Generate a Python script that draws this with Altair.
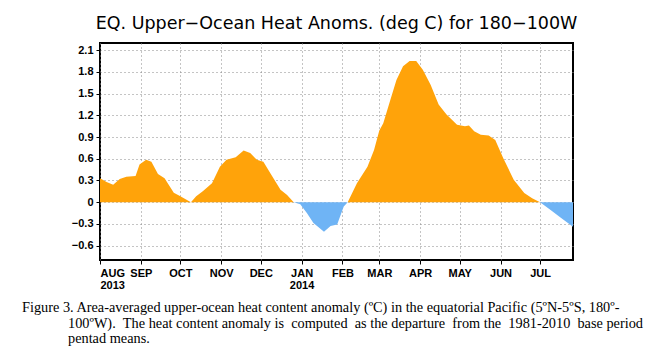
import altair as alt
import pandas as pd

# ---- data ----
dates = [
    "2013-08-01", "2013-08-06", "2013-08-11", "2013-08-16", "2013-08-21", "2013-08-28",
    "2013-08-31", "2013-09-05", "2013-09-09", "2013-09-14", "2013-09-19", "2013-09-26",
    "2013-10-01", "2013-10-05", "2013-10-09", "2013-10-13", "2013-10-18", "2013-10-25",
    "2013-10-31", "2013-11-05", "2013-11-12", "2013-11-18", "2013-11-23", "2013-11-28",
    "2013-12-03", "2013-12-09", "2013-12-16", "2013-12-21", "2013-12-26", "2013-12-31",
    "2014-01-05", "2014-01-10", "2014-01-18", "2014-01-23", "2014-01-28", "2014-02-02",
    "2014-02-05", "2014-02-12", "2014-02-20", "2014-02-25", "2014-03-01", "2014-03-04",
    "2014-03-09", "2014-03-14", "2014-03-19", "2014-03-24", "2014-03-29", "2014-04-03",
    "2014-04-09", "2014-04-15", "2014-04-21", "2014-04-29", "2014-05-05", "2014-05-08",
    "2014-05-12", "2014-05-17", "2014-05-23", "2014-05-28", "2014-06-03", "2014-06-11",
    "2014-06-19", "2014-06-25", "2014-07-01", "2014-07-09", "2014-07-17", "2014-07-26",
]
values = [
    0.33, 0.28, 0.24, 0.32, 0.35, 0.36,
    0.52, 0.585, 0.56, 0.39, 0.33, 0.13,
    0.08, 0.04, 0.0, 0.08, 0.15, 0.26,
    0.49, 0.585, 0.62, 0.715, 0.68, 0.585,
    0.56, 0.38, 0.17, 0.10, 0.0, -0.03,
    -0.15, -0.29, -0.41, -0.33, -0.31, -0.06,
    0.0, 0.26, 0.49, 0.72, 0.99, 1.09,
    1.39, 1.69, 1.88, 1.95, 1.95, 1.83,
    1.62, 1.35, 1.21, 1.07, 1.05, 1.06,
    0.98, 0.93, 0.92, 0.86, 0.61, 0.31,
    0.125, 0.055, 0.0, -0.11, -0.22, -0.34,
]
month_ticks = [(2013, 8), (2013, 9), (2013, 10), (2013, 11), (2013, 12), (2014, 1),
               (2014, 2), (2014, 3), (2014, 4), (2014, 5), (2014, 6), (2014, 7)]
y_ticks = [-0.6, -0.3, 0, 0.3, 0.6, 0.9, 1.2, 1.5, 1.8, 2.1]

NB = "\u00a0"  # a few extra spaces for the justified look of the reference caption
title_text = "EQ. Upper\u2212Ocean Heat Anoms. (deg C) for 180\u2212100W"
caption_lines = [
    "Figure 3. Area-averaged upper-ocean heat content anomaly (\u00baC) in the equatorial Pacific (5\u00baN-5\u00baS, 180\u00ba-",
    f"100\u00baW). {NB}The heat content anomaly is {NB}computed {NB}as the departure {NB}from the {NB}1981-2010 {NB}base period",
    "pentad means.",
]

df = pd.DataFrame({"date": dates, "value": values})

AXFONT = "Liberation Sans"
x_enc = alt.X(
    "date:T",
    scale=alt.Scale(type="utc",
                    domain=[alt.DateTime(year=2013, month=8, date=1, utc=True),
                            alt.DateTime(year=2014, month=7, date=26, utc=True)]),
    axis=alt.Axis(
        values=[alt.DateTime(year=y, month=m, date=1, utc=True) for y, m in month_ticks],
        labelExpr="[upper(utcFormat(datum.value, '%b')), (utcFormat(datum.value, '%m') == '08' || utcFormat(datum.value, '%m') == '01') ? utcFormat(datum.value, '%Y') : '']",
        title=None, grid=True, gridDash=[1, 3], gridColor="#888888", gridWidth=1,
        tickSize=4, tickColor="black", domain=False,
        labelFont=AXFONT, labelFontSize=11, labelFontWeight="bold", labelColor="black",
        labelPadding=3, labelLineHeight=12,
    ),
)
y_axis = alt.Axis(
    values=y_ticks,
    labelExpr="datum.value == 0 ? '0' : replace(format(datum.value, '.1f'), '-', '\u2212')",
    title=None, grid=True, gridDash=[1, 3], gridColor="#888888", gridWidth=1,
    tickSize=4, tickColor="black", domain=False,
    labelFont=AXFONT, labelFontSize=11, labelFontWeight="bold", labelColor="black",
    labelPadding=3,
)
yscale = alt.Scale(domain=[-0.8, 2.2], nice=False, zero=False)

base = alt.Chart(df).transform_calculate(
    pos="max(datum.value, 0)", neg="min(datum.value, 0)"
)
pos_area = base.mark_area(color="#FFA30A", interpolate="linear").encode(
    x=x_enc, y=alt.Y("pos:Q", scale=yscale, axis=y_axis), y2=alt.datum(0)
)
neg_area = base.mark_area(color="#6FB4F5", interpolate="linear").encode(
    x=x_enc, y=alt.Y("neg:Q", scale=yscale, axis=y_axis), y2=alt.datum(0)
)

cap_layers = []
cap_pos = [(-78, 265), (-32, 281), (-32, 296)]
for line, (cx, cy) in zip(caption_lines, cap_pos):
    cap_layers.append(
        alt.Chart(pd.DataFrame({"t": [line]})).mark_text(
            align="left", baseline="middle", font="Liberation Serif", fontSize=14.3,
            color="black"
        ).encode(text="t:N", x=alt.value(cx), y=alt.value(cy))
    )

chart = alt.layer(pos_area, neg_area, *cap_layers).properties(
    width=473, height=217,
    title=alt.TitleParams(title_text, font="DejaVu Sans", fontSize=17.5, fontWeight="normal",
                          color="black", anchor="middle", offset=11),
    autosize=alt.AutoSizeParams(type="none"),
    padding={"left": 92, "top": 35, "right": 83, "bottom": 88},
).configure_view(stroke="black", strokeWidth=2)

chart.save("out.html", embed_options={"renderer": "svg", "actions": False})
